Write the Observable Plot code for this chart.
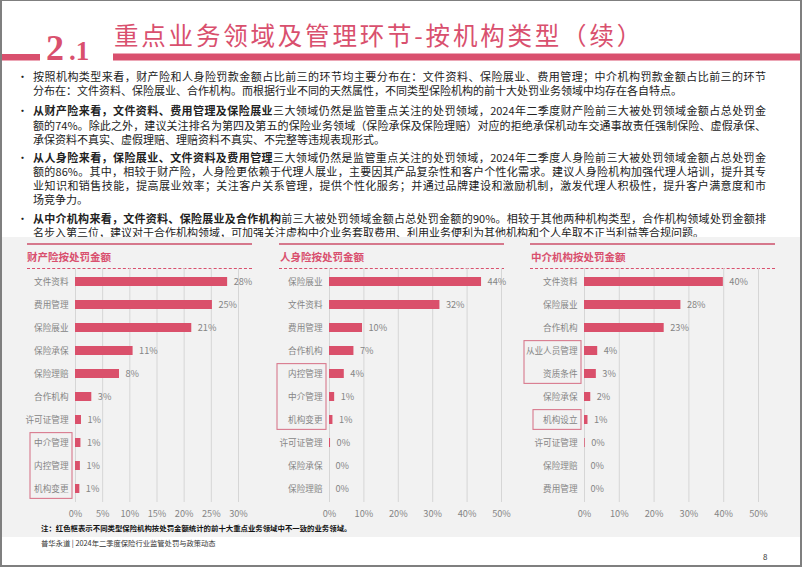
<!DOCTYPE html>
<html><head><meta charset="utf-8">
<script src="https://cdn.jsdelivr.net/npm/d3@7"></script>
<script src="https://cdn.jsdelivr.net/npm/@observablehq/plot@0.6"></script>
<style>
body{margin:0;background:#fff;}
#page{position:relative;width:802px;height:567px;background:#fff;overflow:hidden;font-family:"Noto Sans CJK SC","Noto Sans",sans-serif;color:#222;}
.ln{position:absolute;left:33px;width:733px;height:14px;line-height:14px;font-size:11px;white-space:nowrap;text-align:justify;text-align-last:justify;}
.ln.last{text-align:left;text-align-last:left;}
.bul{position:absolute;left:17px;height:14px;line-height:14px;font-size:11px;}
b{font-weight:bold;}
.ptop{position:absolute;height:0;border-top:2px solid #d6788c;}
.pdash{position:absolute;height:0;border-top:1px dashed #d9506e;}
.ptitle{position:absolute;font-size:10.5px;font-weight:bold;color:#d9506e;line-height:14px;height:14px;}
.chart{position:absolute;top:262px;}
#frame{position:absolute;left:0;top:0;width:802px;height:567px;box-sizing:border-box;border:2px solid #7f7f7f;border-top-width:1px;pointer-events:none;}
</style></head>
<body><div id="page">
<svg id="hdr" width="802" height="74" style="position:absolute;left:0;top:0">
  <rect x="0" y="54" width="40" height="6.5" fill="#d9506e"/>
  <rect x="113" y="53.5" width="689" height="7" fill="#d9506e"/>
  <text x="46" y="60" font-family="Liberation Serif, DejaVu Serif, serif" font-weight="bold" font-size="36" fill="#d9506e">2</text>
  <text x="69" y="60" font-family="Liberation Serif, DejaVu Serif, serif" font-weight="bold" font-size="27" fill="#d9506e">.1</text>
  <text x="114" y="45" font-family="Noto Sans CJK SC, sans-serif" font-size="24.5" letter-spacing="2.8" fill="#d9506e">重点业务领域及管理环节-按机构类型（续）</text>
</svg>

<div class="bul" style="top:69px">•</div>
<div class="ln" style="top:69px">按照机构类型来看，财产险和人身险罚款金额占比前三的环节均主要分布在：文件资料、保险展业、费用管理；中介机构罚款金额占比前三的环节</div>
<div class="ln last" style="top:83px">分布在：文件资料、保险展业、合作机构。而根据行业不同的天然属性，不同类型保险机构的前十大处罚业务领域中均存在各自特点。</div>

<div class="bul" style="top:103px">•</div>
<div class="ln" style="top:103px"><b>从财产险来看，文件资料、费用管理及保险展业</b>三大领域仍然是监管重点关注的处罚领域，2024年二季度财产险前三大被处罚领域金额占总处罚金</div>
<div class="ln" style="top:117.5px">额的74%。除此之外，建议关注排名为第四及第五的保险业务领域（保险承保及保险理赔）对应的拒绝承保机动车交通事故责任强制保险、虚假承保、</div>
<div class="ln last" style="top:132px">承保资料不真实、虚假理赔、理赔资料不真实、不完整等违规表现形式。</div>

<div class="bul" style="top:150px">•</div>
<div class="ln" style="top:150px"><b>从人身险来看，保险展业、文件资料及费用管理</b>三大领域仍然是监管重点关注的处罚领域，2024年二季度人身险前三大被处罚领域金额占总处罚金</div>
<div class="ln" style="top:164px">额的86%。其中，相较于财产险，人身险更依赖于代理人展业，主要因其产品复杂性和客户个性化需求。建议人身险机构加强代理人培训，提升其专</div>
<div class="ln" style="top:178px">业知识和销售技能，提高展业效率；关注客户关系管理，提供个性化服务；并通过品牌建设和激励机制，激发代理人积极性，提升客户满意度和市</div>
<div class="ln last" style="top:192px">场竞争力。</div>

<div class="bul" style="top:211px">•</div>
<div class="ln" style="top:211px"><b>从中介机构来看，文件资料、保险展业及合作机构</b>前三大被处罚领域金额占总处罚金额的90%。相较于其他两种机构类型，合作机构领域处罚金额排</div>
<div class="ln last" style="top:225px">名步入第三位，建议对于合作机构领域，可加强关注虚构中介业务套取费用、利用业务便利为其他机构和个人牟取不正当利益等合规问题。</div>

<div style="position:absolute;left:0;top:237px;width:802px;height:300px;background:#f2f2f2"></div>

<div class="ptop" style="left:27px;width:225px;top:243px"></div>
<div class="ptitle" style="left:27px;top:250px">财产险按处罚金额</div>
<div class="pdash" style="left:27px;width:225px;top:268px"></div>

<div class="ptop" style="left:279px;width:225px;top:243px"></div>
<div class="ptitle" style="left:280px;top:250px">人身险按处罚金额</div>
<div class="pdash" style="left:279px;width:225px;top:268px"></div>

<div class="ptop" style="left:530px;width:245px;top:243px"></div>
<div class="ptitle" style="left:531px;top:250px">中介机构按处罚金额</div>
<div class="pdash" style="left:530px;width:245px;top:268px"></div>

<div id="c1" class="chart" style="left:20px"></div>
<div id="c2" class="chart" style="left:270px"></div>
<div id="c3" class="chart" style="left:520px"></div>

<div style="position:absolute;left:41px;top:522px;font-size:7.4px;font-weight:bold;color:#111;line-height:12px;white-space:nowrap">注：红色框表示不同类型保险机构按处罚金额统计的前十大重点业务领域中不一致的业务领域。</div>
<div style="position:absolute;left:41px;top:537px;font-size:7.3px;color:#333;line-height:12px;white-space:nowrap">普华永道 | 2024年二季度保险行业监管处罚与政策动态</div>
<div style="position:absolute;left:763px;top:551px;font-size:8px;color:#333;line-height:12px">8</div>
<div id="frame"></div>
</div>
<script>
// 财产险按处罚金额
const propCats = ["文件资料","费用管理","保险展业","保险承保","保险理赔","合作机构","许可证管理","中介管理","内控管理","机构变更"];
const propVals = [28.0, 25.2, 21.4, 10.6, 8.1, 3.0, 1.1, 1.0, 0.9, 0.8];
const propLabels = ["28%","25%","21%","11%","8%","3%","1%","1%","1%","1%"];
const propTicks = [0,5,10,15,20,25,30];
const propHighlight = [["中介管理","机构变更"]];

// 人身险按处罚金额
const lifeCats = ["保险展业","文件资料","费用管理","合作机构","内控管理","中介管理","机构变更","许可证管理","保险承保","保险理赔"];
const lifeVals = [44.2, 32.1, 9.6, 7.1, 4.3, 1.5, 1.0, 0.3, 0, 0];
const lifeLabels = ["44%","32%","10%","7%","4%","1%","1%","0%","0%","0%"];
const lifeTicks = [0,10,20,30,40,50];
const lifeHighlight = [["内控管理","机构变更"]];

// 中介机构按处罚金额
const brokerCats = ["文件资料","保险展业","合作机构","从业人员管理","资质条件","保险承保","机构设立","许可证管理","保险理赔","费用管理"];
const brokerVals = [39.9, 27.7, 22.9, 3.8, 3.4, 1.8, 1.0, 0.2, 0, 0];
const brokerLabels = ["40%","28%","23%","4%","3%","2%","1%","0%","0%","0%"];
const brokerTicks = [0,10,20,30,40,50];
const brokerHighlight = [["从业人员管理","资质条件"],["机构设立","机构设立"]];

const BAR = "#da506b", GREY = "#858585";

function boxesMark(groups, cats, lefts) {
  return (index, scales) => {
    const y = scales.y, x = scales.x;
    const step = y(cats[1]) - y(cats[0]);
    let bw = typeof y.bandwidth === "function" ? y.bandwidth() : y.bandwidth;
    if (bw == null || isNaN(bw)) bw = step * 0.38;
    const x0 = x(0);
    const g = d3.create("svg:g");
    groups.forEach((grp, i) => {
      const c1 = y(grp[0]) + bw / 2, c2 = y(grp[1]) + bw / 2;
      g.append("rect")
        .attr("x", x0 - lefts[i]).attr("width", lefts[i] - 3)
        .attr("y", c1 - step * 0.43).attr("height", c2 - c1 + step * 0.86)
        .attr("fill", "none").attr("stroke", "#d8798d").attr("stroke-width", 1.1);
    });
    return g.node();
  };
}

function panel(cats, vals, labels, ticks, groups, o) {
  const data = cats.map((c, i) => ({cat: c, v: vals[i], label: labels[i]}));
  return Plot.plot({
    width: o.width, height: 262,
    marginTop: 6, marginBottom: 22, marginLeft: o.ml, marginRight: o.mr,
    style: {background: "transparent", fontFamily: "Noto Sans CJK SC, sans-serif", fontSize: "9px", overflow: "visible"},
    x: {domain: [0, ticks[ticks.length - 1]], label: null},
    y: {domain: cats, paddingInner: 0.62, paddingOuter: 0.2, label: null},
    marks: [
      Plot.gridX(ticks, {stroke: "#d6d6d6", strokeOpacity: 1, strokeWidth: 1}),
      Plot.barX(data, {x: "v", y: "cat", fill: BAR}),
      Plot.text(data, {x: "v", y: "cat", text: "label", textAnchor: "start", dx: 6, fill: GREY, fontSize: 9.2}),
      Plot.axisX({ticks, tickFormat: d => d + "%", tickSize: 0, tickPadding: 8, fontSize: 9.2, color: GREY, label: null}),
      Plot.axisY({tickSize: 0, tickPadding: 7, fontSize: 8.6, color: GREY, label: null}),
      boxesMark(groups, cats, o.boxLefts)
    ]
  });
}

document.getElementById("c1").append(panel(propCats, propVals, propLabels, propTicks, propHighlight, {width: 240, ml: 55, mr: 22, boxLefts: [45]}));
document.getElementById("c2").append(panel(lifeCats, lifeVals, lifeLabels, lifeTicks, lifeHighlight, {width: 250, ml: 59, mr: 19, boxLefts: [52]}));
document.getElementById("c3").append(panel(brokerCats, brokerVals, brokerLabels, brokerTicks, brokerHighlight, {width: 262, ml: 64, mr: 24, boxLefts: [60, 51]}));
</script>
</body></html>
